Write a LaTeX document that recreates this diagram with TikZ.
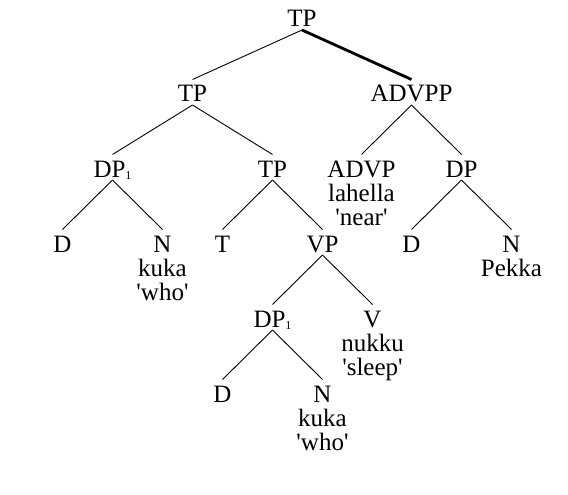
\documentclass[tikz,border=0pt]{standalone}
\usepackage{fontspec}
\setmainfont{Liberation Serif}
\newfontfamily\glossfont{Liberation Serif}
\usepackage{tikz}
\usetikzlibrary{positioning}
\newcommand{\idx}[1]{\raisebox{-2.5pt}{\fontsize{12}{12}\selectfont #1}}
\tikzset{
  treenode/.style = {inner sep=0pt, outer sep=0pt,
    font=\fontsize{25}{25}\selectfont},
  cat_n/.style = {treenode, text height=16.5pt, text depth=0pt},% noeud categorie
  lex_n/.style = {treenode, align=center,
    font=\glossfont\fontsize{25}{24}\selectfont},% mot et glose
  edge from parent/.style = {draw, line width=0.9pt},
  edge from parent path = {([yshift=-3pt]\tikzparentnode.south)
    -- ([yshift=6pt]\tikzchildnode.north)}
}
\begin{document}
\begin{tikzpicture}[x=1pt,y=-1pt,level/.style={sibling distance = 100pt,
  level distance = 75pt}, level 1/.style={sibling distance = 219pt}]
\useasboundingbox (0,0) rectangle (568,495);
\node [cat_n] (tp0) at (302,18.75) {TP}
    child{ node [cat_n] (tp1) {TP}
        child[sibling distance=160pt]{ node [cat_n] (dp1) {DP\idx{1}}
            child{ node [cat_n] (d1) {D}}
            child{ node [cat_n] (n1) {N}}
        }
        child[sibling distance=160pt]{ node [cat_n] (tp2) {TP}
            child{ node [cat_n] (t1) {T}}
            child{ node [cat_n] (vp) {VP}
                child{ node [cat_n] (dp2) {DP\idx{1}}
                    child{ node [cat_n] (d2) {D}}
                    child{ node [cat_n] (n2) {N}}
                }
                child{ node [cat_n] (v1) {V}}
            }
        }
    }
    child{ node [cat_n] (advpp) {ADVPP}
        child{ node [cat_n] (advp) {ADVP}}
        child{ node [cat_n] (dp3) {DP}
            child{ node [cat_n] (d3) {D}}
            child{ node [cat_n] (n3) {N}}
        }
        edge from parent[line width=2.8pt]
    }
;
\node [lex_n, below=7pt of n1] (w1) {kuka\\'who'};
\node [lex_n, below=7pt of advp] (w2) {lahella\\'near'};
\node [lex_n, below=7pt of n3] (w3) {Pekka};
\node [lex_n, below=7pt of v1] (w4) {nukku\\'sleep'};
\node [lex_n, below=7pt of n2] (w5) {kuka\\'who'};
\end{tikzpicture}
\end{document}
